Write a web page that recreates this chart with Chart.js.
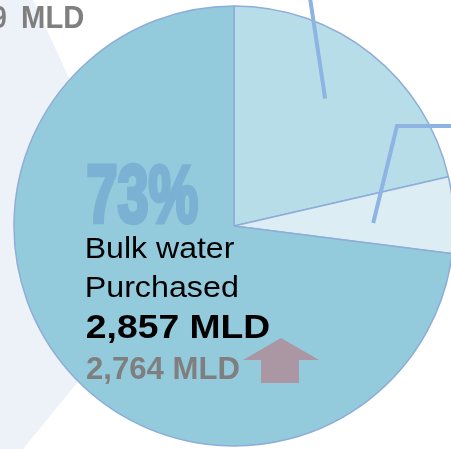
<!DOCTYPE html>
<html>
<head>
<meta charset="utf-8">
<script src="https://cdn.jsdelivr.net/npm/chart.js@4/dist/chart.umd.min.js"></script>
<style>
html,body{margin:0;padding:0;background:#ffffff;overflow:hidden;}
canvas{display:block;}
</style>
</head>
<body>
<canvas id="c" width="451" height="449"></canvas>
<script>
// ---- data ----
const categories = ["Other source A", "Other source B", "Bulk water Purchased"];
const shares = [21.4, 5.6, 73];
const sliceColors = ["#B7DDE8", "#DCEEF4", "#93CBDD"];
const pctLabel = "73%";
const labelLines = ["Bulk water", "Purchased"];
const currentValue = "2,857 MLD";
const previousValue = "2,764 MLD";
const cornerValue = ["9", "MLD"];

// fit text ink into a box (left,right,capTop,baseline); optional stroke to embolden
function fitText(ctx, text, font, color, left, right, capTop, baseline, strokeW) {
  strokeW = strokeW || 0;
  const h = strokeW / 2;
  ctx.save();
  ctx.font = font;
  ctx.textAlign = 'left';
  ctx.textBaseline = 'alphabetic';
  const m = ctx.measureText(text);
  const inkW = m.actualBoundingBoxLeft + m.actualBoundingBoxRight;
  const capH = ctx.measureText('H').actualBoundingBoxAscent;
  const sx = (right - left - strokeW) / inkW;
  const sy = (baseline - capTop - strokeW) / capH;
  ctx.translate(left + h, baseline - h);
  ctx.scale(sx, sy);
  ctx.fillStyle = color;
  ctx.fillText(text, m.actualBoundingBoxLeft, 0);
  if (strokeW > 0) {
    ctx.strokeStyle = color;
    ctx.lineJoin = 'miter';
    ctx.lineWidth = strokeW / sx;
    ctx.strokeText(text, m.actualBoundingBoxLeft, 0);
  }
  ctx.restore();
}

const bgPlugin = {
  id: 'bg',
  beforeDraw(chart) {
    const ctx = chart.ctx;
    ctx.save();
    ctx.fillStyle = '#EDF2F8';
    ctx.beginPath();
    ctx.moveTo(0, 0);
    ctx.lineTo(33, 0);
    ctx.lineTo(162, 279);
    ctx.lineTo(23, 449);
    ctx.lineTo(0, 449);
    ctx.closePath();
    ctx.fill();
    ctx.restore();
  }
};

const overlayPlugin = {
  id: 'overlay',
  afterDraw(chart) {
    const ctx = chart.ctx;
    const arcs = chart.getDatasetMeta(0).data;
    const a0 = arcs[0];
    const cx = a0.x, cy = a0.y, R = a0.outerRadius;
    // leader lines
    ctx.save();
    ctx.strokeStyle = '#8DB4E3';
    ctx.lineWidth = 4;
    ctx.lineCap = 'butt';
    ctx.lineJoin = 'miter';
    const pt = (deg, f) => {
      const r = (deg - 90) * Math.PI / 180;
      return [cx + Math.cos(r) * R * f, cy + Math.sin(r) * R * f];
    };
    let p = pt(35.6, 0.712);
    ctx.beginPath();
    ctx.moveTo(310, -2);
    ctx.lineTo(p[0], p[1]);
    ctx.stroke();
    p = pt(88.8, 0.633);
    ctx.beginPath();
    ctx.moveTo(453, 126);
    ctx.lineTo(397, 126);
    ctx.lineTo(p[0], p[1]);
    ctx.stroke();
    ctx.restore();

    // texts
    fitText(ctx, cornerValue[0], 'bold 31px "Liberation Sans", Arial, sans-serif', '#7F7F7F', -7, 6.5, 5, 27.5);
    fitText(ctx, cornerValue[1], 'bold 31px "Liberation Sans", Arial, sans-serif', '#7F7F7F', 23, 84, 5, 27.5);
    fitText(ctx, pctLabel, 'bold 80px "Liberation Sans Narrow", "Liberation Sans", Arial, sans-serif', '#7BB2D3', 87, 199, 164, 223, 3);
    fitText(ctx, labelLines[0], '28px "Liberation Sans", Arial, sans-serif', '#000000', 87, 234, 238, 257.5);
    fitText(ctx, labelLines[1], '28px "Liberation Sans", Arial, sans-serif', '#000000', 87, 237, 276, 296.5);
    fitText(ctx, currentValue, 'bold 32px "Liberation Sans", Arial, sans-serif', '#000000', 87, 269, 315, 338);
    fitText(ctx, previousValue, 'bold 29px "Liberation Sans", Arial, sans-serif', '#7F7F7F', 87, 239, 358, 379);

    // up arrow
    ctx.save();
    ctx.fillStyle = '#AB97A3';
    ctx.beginPath();
    ctx.moveTo(281, 338);
    ctx.lineTo(319, 360);
    ctx.lineTo(299, 360);
    ctx.lineTo(299, 383);
    ctx.lineTo(261, 383);
    ctx.lineTo(261, 360);
    ctx.lineTo(243, 360);
    ctx.closePath();
    ctx.fill();
    ctx.restore();
  }
};

new Chart(document.getElementById('c'), {
  type: 'pie',
  data: {
    labels: categories,
    datasets: [{
      data: shares,
      backgroundColor: sliceColors,
      borderColor: '#8EADD8',
      borderWidth: 1.5,
      radius: 220
    }]
  },
  options: {
    responsive: false,
    animation: false,
    layout: { padding: { left: 17, right: 0, top: 3, bottom: 0 } },
    plugins: { legend: { display: false }, tooltip: { enabled: false } },
    elements: { arc: { borderAlign: 'center' } }
  },
  plugins: [bgPlugin, overlayPlugin]
});
</script>
</body>
</html>
